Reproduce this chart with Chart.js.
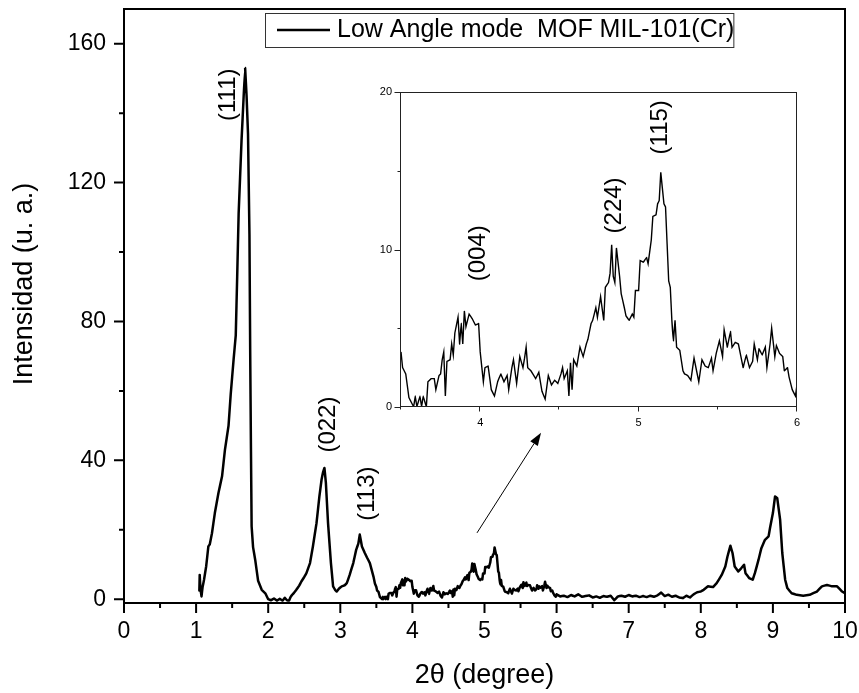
<!DOCTYPE html>
<html>
<head>
<meta charset="utf-8">
<script src="https://cdn.jsdelivr.net/npm/chart.js@4.4.1/dist/chart.umd.min.js"></script>
<style>
html,body{margin:0;padding:0;background:#fff;}
#wrap{position:relative;width:859px;height:693px;background:#fff;}
#main{position:absolute;left:0;top:0;}
#inset{position:absolute;left:360px;top:80px;}
</style>
</head>
<body>
<div id="wrap">
<canvas id="main" width="859" height="693"></canvas>
<canvas id="inset" width="450" height="360"></canvas>
</div>
<script>
// ---------------- data ----------------
const seriesLabel = 'Low Angle mode  MOF MIL-101(Cr)';
const xTitle = '2\u03B8 (degree)';
const yTitle = 'Intensidad (u. a.)';

const angle = [
  1.045,1.05,1.06,1.075,1.09,1.11,1.14,1.17,1.19,1.22,
  1.26,1.31,1.36,1.40,1.45,1.48,1.52,1.55,1.57,1.59,
  1.63,1.66,1.68,1.70,1.72,1.74,1.75,1.76,1.77,1.79,
  1.82,1.86,1.91,1.96,2.00,2.04,2.08,2.12,2.16,2.20,
  2.23,2.26,2.29,2.31,2.33,2.36,2.39,2.43,2.46,2.50,
  2.53,2.58,2.62,2.67,2.71,2.74,2.76,2.78,2.80,2.83,
  2.87,2.90,2.93,2.95,2.98,3.02,3.06,3.09,3.13,3.18,
  3.22,3.25,3.27,3.30,3.34,3.37,3.41,3.46,3.48,
  3.50,3.51,3.53,3.55,3.58,3.59,3.60,3.62,3.63,3.64,
  3.66,3.67,3.69,3.71,3.72,3.74,3.75,3.76,3.77,3.78,
  3.79,3.81,3.82,3.83,3.84,3.86,3.87,3.88,3.89,3.90,
  3.91,3.93,3.95,3.97,3.99,4.00,4.02,4.03,4.05,4.07,
  4.09,4.11,4.13,4.15,4.17,4.18,4.20,4.21,4.23,4.25,
  4.27,4.28,4.29,4.30,4.32,4.35,4.37,4.39,4.41,4.43,
  4.45,4.47,4.49,4.51,4.52,4.53,4.55,4.56,4.57,4.58,
  4.59,4.61,4.63,4.65,4.67,4.68,4.70,4.71,4.73,4.74,
  4.76,4.78,4.79,4.81,4.82,4.83,4.84,4.85,4.86,4.88,
  4.89,4.91,4.92,4.94,4.96,4.97,4.98,5.00,5.01,5.03,
  5.05,5.06,5.08,5.09,5.11,5.12,5.13,5.14,5.16,5.17,
  5.19,5.20,5.21,5.22,5.23,5.24,5.26,5.28,5.29,5.31,
  5.33,5.35,5.38,5.40,5.42,5.44,5.46,5.47,5.49,5.51,
  5.53,5.54,5.56,5.58,5.59,5.61,5.63,5.66,5.68,5.70,
  5.72,5.73,5.75,5.76,5.78,5.80,5.81,5.83,5.84,5.86,
  5.87,5.89,5.91,5.92,5.94,5.95,5.97,5.99,6.00,
  6.05,6.10,6.15,6.20,6.25,6.30,6.35,6.40,6.45,6.50,
  6.55,6.60,6.65,6.70,6.75,6.80,6.85,6.90,6.95,7.00,
  7.05,7.10,7.15,7.20,7.25,7.30,7.35,7.40,7.45,7.50,
  7.55,7.60,7.65,7.70,7.75,7.80,7.85,7.90,7.95,8.00,
  8.04,8.10,8.17,8.22,8.29,8.34,8.37,8.41,8.44,8.47,
  8.52,8.56,8.60,8.62,8.67,8.72,8.75,8.80,8.84,8.89,
  8.94,8.96,9.00,9.03,9.06,9.10,9.13,9.17,9.20,9.26,
  9.33,9.42,9.51,9.61,9.68,9.75,9.82,9.89,9.96,10.0
];

const intensity = [
  2.5,7.0,3.0,0.8,3.5,5.6,9.5,15.2,15.8,19.0,
  24.8,30.6,35.4,43,50,59,69,76,93,111,
  132,145,153,145,134,105,72,45,21,15,
  11.3,5.3,2.7,1.7,0,-0.3,0.2,-0.4,0.1,-0.4,
  0.4,-0.3,-0.4,0.6,1.2,1.9,2.7,3.9,5.1,6.4,
  7.5,10.4,15.2,21.9,29.6,34.4,36.5,37.8,33.5,21.9,
  10.4,3.7,2.6,2.2,3.0,3.7,4.0,4.6,7.0,10.4,
  14.2,16.0,18.6,15.2,13.3,12.0,10.4,6.5,4.5,
  3.5,2.5,2.1,0.6,0,0.7,0,0.7,0,0.7,
  0,1.6,1.8,1.8,1.1,2.0,2.1,3.0,3.5,0.7,
  2.9,3.0,4.0,3.3,4.7,5.7,4.0,5.3,4.0,6.1,
  5.1,5.9,5.6,5.2,5.3,3.5,1.6,2.5,2.6,1.1,
  0.7,1.6,2.1,1.6,2.0,1.1,2.5,3.0,1.5,3.2,
  2.5,3.1,3.8,2.5,2.3,1.8,2.2,1.0,0.5,2.0,
  1.4,1.7,1.5,2.1,2.5,1.8,2.3,0.7,2.8,1.1,
  3.0,2.6,3.8,3.2,4.0,4.3,5.3,5.5,6.3,5.7,
  7.0,5.5,7.6,7.9,8.5,10.3,8.3,7.9,10.1,8.3,
  7.2,6.3,5.8,5.5,5.9,5.7,7.4,7.4,9.3,9.2,
  9.5,9.1,10.6,12.1,12.2,12.9,13.1,14.9,12.9,12.7,
  8.0,7.6,5.5,4.2,5.5,3.8,3.6,2.3,2.1,2.0,
  1.7,3.1,1.6,3.0,2.6,2.5,3.1,2.3,3.4,4.2,
  3.2,4.9,3.8,4.8,3.8,4.1,4.0,2.5,3.3,2.5,
  2.9,4.0,3.0,3.7,3.3,3.8,2.5,4.0,5.0,3.2,
  3.9,3.4,3.2,2.3,2.5,1.9,1.1,0.7,1.4,
  0.8,1.0,0.6,1.2,0.8,1.4,0.7,0.9,1.1,0.5,
  0.8,0.4,0.9,0.7,1.0,-0.3,0.8,1.0,0.7,1.2,
  0.8,1.0,0.6,0.9,0.6,1.0,0.7,1.1,1.9,0.9,
  1.3,0.7,1.0,0.5,0.3,1.0,0.5,1.4,2.0,2.2,
  2.7,3.7,3.5,4.6,7.0,9.4,12.3,15.4,13.3,9.4,
  8.0,8.9,9.9,7.5,6.1,5.6,7.5,11.3,14.7,17.1,
  18.1,20.5,24.8,29.6,29.1,22.9,13.3,5.6,3.2,1.7,
  1.25,1.0,1.25,2.2,3.7,4.1,3.7,3.7,2.2,1.7
];

const xTicks = [0,1,2,3,4,5,6,7,8,9,10];
const xMinorTicks = [0.5,1.5,2.5,3.5,4.5,5.5,6.5,7.5,8.5,9.5];
const yTicks = [0,40,80,120,160];
const yMinorTicks = [20,60,100,140];

const insetXTicks = [4,5,6];
const insetXMinorTicks = [3.5,4.5,5.5];
const insetYTicks = [0,10,20];
const insetYMinorTicks = [5,15];

const peakNames = ['(111)','(022)','(113)'];
const insetPeakNames = ['(004)','(224)','(115)'];

if (angle.length !== intensity.length) {
  throw new Error('length mismatch ' + angle.length + ' vs ' + intensity.length);
}

// ---------------- annotation anchors (data units) ----------------
const peakAnchors = [[1.442,145.3],[2.829,50.3],[3.370,30.4]];
const insetPeakAnchors = [[3.986,9.76],[4.844,12.8],[5.140,17.76]];
const arrowFrom = [4.896,19.1];
const arrowTo = [5.784,47.96];

const FONT = "'Liberation Sans', Arial, Helvetica, sans-serif";

const points = angle.map((a, i) => ({x: a, y: intensity[i]}));
const insetPoints = points.filter(p => p.x >= 3.5 && p.x <= 6.0);

function vText(ctx, text, px, py, font) {
  ctx.save();
  ctx.translate(px, py);
  ctx.rotate(-Math.PI / 2);
  ctx.font = font;
  ctx.fillStyle = '#000';
  ctx.textAlign = 'center';
  ctx.textBaseline = 'middle';
  ctx.fillText(text, 0, 0);
  ctx.restore();
}

function zeroPad(s) { s.paddingTop = 0; s.paddingBottom = 0; s.paddingLeft = 0; s.paddingRight = 0; }

const mainDecor = {
  id: 'mainDecor',
  beforeDraw(chart) {
    const {ctx, width, height} = chart;
    ctx.save(); ctx.fillStyle = '#fff'; ctx.fillRect(0, 0, width, height); ctx.restore();
  },
  afterDraw(chart) {
    const {ctx, chartArea: a, scales: {x, y}} = chart;
    ctx.save();
    ctx.strokeStyle = '#000';
    ctx.lineWidth = 2;
    ctx.strokeRect(a.left, a.top, a.right - a.left, a.bottom - a.top);
    ctx.beginPath();
    xTicks.forEach(v => { const p = x.getPixelForValue(v); ctx.moveTo(p, a.bottom); ctx.lineTo(p, a.bottom + 10); });
    xMinorTicks.forEach(v => { const p = x.getPixelForValue(v); ctx.moveTo(p, a.bottom); ctx.lineTo(p, a.bottom + 5); });
    yTicks.forEach(v => { const p = y.getPixelForValue(v); ctx.moveTo(a.left, p); ctx.lineTo(a.left - 10, p); });
    yMinorTicks.forEach(v => { const p = y.getPixelForValue(v); ctx.moveTo(a.left, p); ctx.lineTo(a.left - 5, p); });
    ctx.stroke();

    // y title
    vText(ctx, yTitle, a.left - 99, a.top + 275, '27px ' + FONT);

    // peak labels
    peakNames.forEach((t, i) => {
      vText(ctx, t, x.getPixelForValue(peakAnchors[i][0]), y.getPixelForValue(peakAnchors[i][1]), '24px ' + FONT);
    });

    // arrow
    const x0 = x.getPixelForValue(arrowFrom[0]), y0 = y.getPixelForValue(arrowFrom[1]);
    const x1 = x.getPixelForValue(arrowTo[0]), y1 = y.getPixelForValue(arrowTo[1]);
    const ang = Math.atan2(y1 - y0, x1 - x0);
    const hl = 13, hw = 4.5;
    const bx = x1 - hl * Math.cos(ang), by = y1 - hl * Math.sin(ang);
    ctx.lineWidth = 1;
    ctx.beginPath(); ctx.moveTo(x0, y0); ctx.lineTo(bx, by); ctx.stroke();
    ctx.beginPath();
    ctx.moveTo(x1, y1);
    ctx.lineTo(bx + hw * Math.sin(ang), by - hw * Math.cos(ang));
    ctx.lineTo(bx - hw * Math.sin(ang), by + hw * Math.cos(ang));
    ctx.closePath();
    ctx.fillStyle = '#000';
    ctx.fill();

    // legend
    const ds = chart.data.datasets[0];
    const lx = a.left + 141, ly = a.top + 4, lh = 34;
    const cy = ly + lh / 2;
    ctx.font = '25px ' + FONT;
    const tx = lx + 72;
    const tw = ctx.measureText(ds.label).width;
    ctx.lineWidth = 1;
    ctx.strokeStyle = '#333';
    ctx.strokeRect(lx + 0.5, ly + 0.5, tx + tw - 1 - lx, lh);
    ctx.strokeStyle = ds.borderColor;
    ctx.lineWidth = 2.5;
    ctx.beginPath(); ctx.moveTo(lx + 12, cy); ctx.lineTo(lx + 65, cy); ctx.stroke();
    ctx.fillStyle = '#000';
    ctx.textAlign = 'left';
    ctx.textBaseline = 'middle';
    ctx.fillText(ds.label, tx, cy);
    ctx.restore();
  }
};

const insetDecor = {
  id: 'insetDecor',
  afterDraw(chart) {
    const {ctx, chartArea: a, scales: {x, y}} = chart;
    ctx.save();
    ctx.strokeStyle = '#222';
    ctx.lineWidth = 1;
    const L = Math.round(a.left) - 0.5, R = Math.round(a.right) - 0.5;
    const T = Math.round(a.top) + 0.5, B = Math.round(a.bottom) - 0.5;
    ctx.strokeRect(L, T, R - L, B - T);
    ctx.beginPath();
    insetXTicks.forEach(v => { const p = Math.round(x.getPixelForValue(v)) - 0.5; ctx.moveTo(p, B); ctx.lineTo(p, B + 5); });
    insetXMinorTicks.forEach(v => { const p = Math.round(x.getPixelForValue(v)) - 0.5; ctx.moveTo(p, B); ctx.lineTo(p, B + 3); });
    insetYTicks.forEach(v => { const p = Math.round(y.getPixelForValue(v)) + 0.5; ctx.moveTo(L, p); ctx.lineTo(L - 6, p); });
    insetYMinorTicks.forEach(v => { const p = Math.round(y.getPixelForValue(v)) + 0.5; ctx.moveTo(L, p); ctx.lineTo(L - 3, p); });
    ctx.stroke();
    insetPeakNames.forEach((t, i) => {
      vText(ctx, t, x.getPixelForValue(insetPeakAnchors[i][0]), y.getPixelForValue(insetPeakAnchors[i][1]), '24px ' + FONT);
    });
    ctx.restore();
  }
};

new Chart(document.getElementById('main'), {
  type: 'line',
  data: {datasets: [{
    label: seriesLabel, data: points,
    borderColor: '#000', backgroundColor: '#000',
    borderWidth: 2.5, pointRadius: 0, tension: 0.001, fill: false,
    borderJoinStyle: 'round', borderCapStyle: 'round'
  }]},
  options: {
    responsive: false, animation: false, devicePixelRatio: 1, events: [],
    layout: {padding: {left: 0, right: 14, top: 9, bottom: 0}},
    plugins: {legend: {display: false}, tooltip: {enabled: false}, title: {display: false}},
    scales: {
      x: {
        type: 'linear', position: 'bottom', min: 0, max: 10,
        afterBuildTicks: s => { s.ticks = xTicks.map(v => ({value: v})); },
        afterFit: s => { s.height = 90; zeroPad(s); },
        grid: {display: false, drawTicks: false}, border: {display: false},
        ticks: {font: {family: FONT, size: 23}, color: '#000', padding: 15, maxRotation: 0, autoSkip: false},
        title: {display: true, text: xTitle, font: {family: FONT, size: 27}, color: '#000', padding: {top: 0, bottom: 1}}
      },
      y: {
        type: 'linear', position: 'left', min: -1.1, max: 170,
        afterBuildTicks: s => { s.ticks = yTicks.map(v => ({value: v})); },
        afterFit: s => { s.width = 124; zeroPad(s); },
        grid: {display: false, drawTicks: false}, border: {display: false},
        ticks: {font: {family: FONT, size: 23}, color: '#000', padding: 18}
      }
    }
  },
  plugins: [mainDecor]
});

new Chart(document.getElementById('inset'), {
  type: 'line',
  data: {datasets: [{
    label: seriesLabel, data: insetPoints,
    borderColor: '#000', borderWidth: 1.4, pointRadius: 0, tension: 0.001, fill: false
  }]},
  options: {
    responsive: false, animation: false, devicePixelRatio: 1, events: [],
    layout: {padding: {left: 0, right: 13, top: 12, bottom: 0}},
    plugins: {legend: {display: false}, tooltip: {enabled: false}, title: {display: false}},
    scales: {
      x: {
        type: 'linear', position: 'bottom', min: 3.5, max: 6,
        afterBuildTicks: s => { s.ticks = insetXTicks.map(v => ({value: v})); },
        afterFit: s => { s.height = 33; zeroPad(s); },
        grid: {display: false, drawTicks: false}, border: {display: false},
        ticks: {font: {family: FONT, size: 11}, color: '#000', padding: 9, maxRotation: 0, autoSkip: false}
      },
      y: {
        type: 'linear', position: 'left', min: 0, max: 20,
        afterBuildTicks: s => { s.ticks = insetYTicks.map(v => ({value: v})); },
        afterFit: s => { s.width = 41; zeroPad(s); },
        grid: {display: false, drawTicks: false}, border: {display: false},
        ticks: {font: {family: FONT, size: 11}, color: '#000', padding: 9}
      }
    }
  },
  plugins: [insetDecor]
});
</script>
</body>
</html>
